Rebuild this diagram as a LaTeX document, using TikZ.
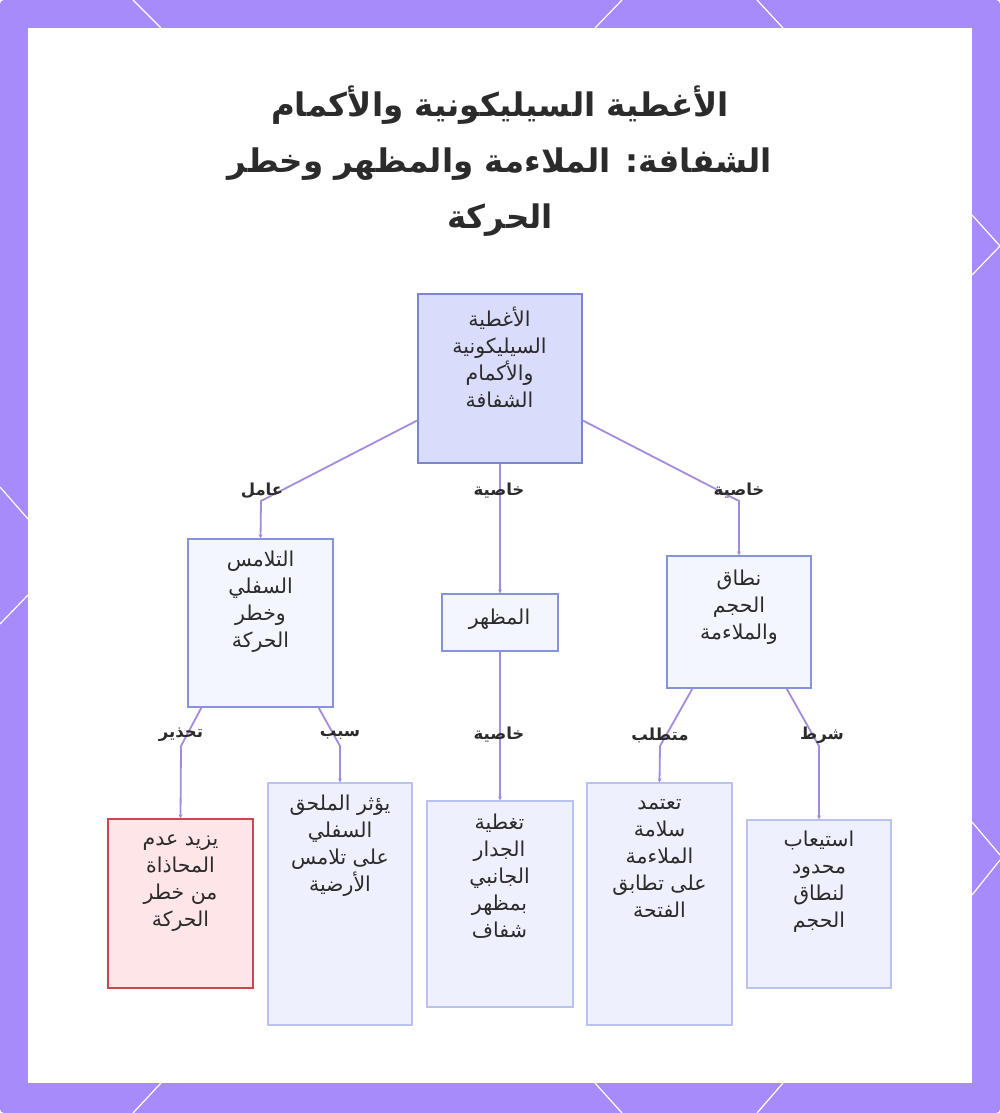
\documentclass[tikz,border=0pt]{standalone}
\usepackage{fontspec}
\setmainfont{DejaVu Sans}
\newfontfamily\arabicfont[Script=Arabic]{DejaVu Sans}
\TeXXeTstate=1
\usepackage{tikz}
\usetikzlibrary{positioning, arrows.meta, calc}
\definecolor{frame}{HTML}{A78BFA}
\definecolor{edge}{HTML}{A48BDC}
\definecolor{ink}{HTML}{2B2B2B}
\definecolor{rootfill}{HTML}{D9DDFB}
\definecolor{rootline}{HTML}{7A86D4}
\definecolor{midfill}{HTML}{F4F6FE}
\definecolor{midline}{HTML}{8593D8}
\definecolor{leaffill}{HTML}{EEF1FD}
\definecolor{leafline}{HTML}{BAC2EF}
\definecolor{warnfill}{HTML}{FDE5E8}
\definecolor{warnline}{HTML}{C9474F}
\newcommand{\ar}[1]{\beginR #1\endR}
\tikzset{
  box/.style={rectangle, line width=1.2pt, inner sep=0pt},
  rootbox/.style={box, draw=rootline, fill=rootfill},
  midbox/.style={box, draw=midline, fill=midfill},
  leafbox/.style={box, draw=leafline, fill=leaffill},
  warnbox/.style={box, draw=warnline, fill=warnfill},
  txt/.style={font=\arabicfont\fontsize{20.5}{27}\selectfont, text=ink, align=center, inner sep=0pt},
  elabel/.style={font=\arabicfont\bfseries\fontsize{16.5}{18}\selectfont, text=ink, inner sep=1pt},
  link/.style={draw=edge, line width=1.8pt, -{Stealth[length=4pt,width=4pt]}},
  deco/.style={white, line width=1.2pt}
}

\begin{document}
\begin{tikzpicture}[x=1pt, y=-1pt]
    \useasboundingbox (0,0) rectangle (1000,1113);
    % Rahmen
    \fill[frame, rounded corners=4pt] (0,0) rectangle (1000,1113);
    \fill[white] (28,28) rectangle (972,1083);
    \foreach \xa/\ya/\xb/\yb in {133/0/161/28, 622/0/595/28, 757/0/783/28,
      161/1083/133/1113, 595/1083/622/1113, 783/1083/757/1113,
      0/487/28/519, 28/595/0/624,
      972/215/1000/246, 1000/246/972/275, 972/822/1000/855, 1000/860/972/895}
      \draw[deco] (\xa,\ya) -- (\xb,\yb);
    % Titel
    \node[font=\arabicfont\bfseries\fontsize{32.5}{56}\selectfont, text=ink, align=center] (title) at (500,161)
      {\ar{الأغطية السيليكونية والأكمام}\\\ar{الشفافة: الملاءمة والمظهر وخطر}\\\ar{الحركة}};
    % Kaesten
    \node[rootbox, minimum width=164pt, minimum height=169pt] (root) at (500,378.5) {};
    \node[midbox, minimum width=145pt, minimum height=168pt] (contact) at (260.5,623) {};
    \node[midbox, minimum width=116pt, minimum height=57pt] (look) at (500,622.5) {};
    \node[midbox, minimum width=144pt, minimum height=132pt] (fit) at (739,622) {};
    \node[warnbox, minimum width=145pt, minimum height=169pt] (warn) at (180.5,903.5) {};
    \node[leafbox, minimum width=144pt, minimum height=242pt] (lip) at (340,904) {};
    \node[leafbox, minimum width=146pt, minimum height=206pt] (wall) at (500,904) {};
    \node[leafbox, minimum width=145pt, minimum height=242pt] (cut) at (659.5,904) {};
    \node[leafbox, minimum width=144pt, minimum height=168pt] (range) at (819,904) {};
    % Knickpunkte
    \coordinate (kcontact) at (261,501);
    \coordinate (kfit) at (739,501);
    \coordinate (kwarn) at (181,746);
    \coordinate (klip) at (340,746);
    \coordinate (kcut) at (660,746);
    \coordinate (krange) at (819,746);
    % Verbindungen
    \draw[link] ($(root.south west)!0.254!(root.north west)$) -- (kcontact) -- (contact.north);
    \draw[link] (root.south) -- (look.north);
    \draw[link] ($(root.south east)!0.254!(root.north east)$) -- (kfit) -- (fit.north);
    \draw[link] ($(contact.south west)+(14,0)$) -- (kwarn) -- (warn.north);
    \draw[link] ($(contact.south east)+(-15,0)$) -- (klip) -- (lip.north);
    \draw[link] (look.south) -- (wall.north);
    \draw[link] ($(fit.south west)+(26,0)$) -- (kcut) -- (cut.north);
    \draw[link] ($(fit.south east)+(-25,0)$) -- (krange) -- (range.north);
    % Kantenbeschriftungen
    \node[elabel] (lfactor) at (262,491) {\ar{عامل}};
    \node[elabel] (lprop1) at (499,491) {\ar{خاصية}};
    \node[elabel] (lprop2) at (739,491) {\ar{خاصية}};
    \node[elabel] (lwarn) at (181,735) {\ar{تحذير}};
    \node[elabel] (lcause) at (340,735) {\ar{سبب}};
    \node[elabel] (lprop3) at (499,735) {\ar{خاصية}};
    \node[elabel] (lneed) at (660,735) {\ar{متطلب}};
    \node[elabel] (lcond) at (822,735) {\ar{شرط}};
    % Texte
    \node[txt] (troot) at (499.5,357.5)
      {\ar{الأغطية}\\\ar{السيليكونية}\\\ar{والأكمام}\\\ar{الشفافة}};
    \node[txt] (tcontact) at (260.5,601.5)
      {\ar{التلامس}\\\ar{السفلي}\\\ar{وخطر}\\\ar{الحركة}};
    \node[txt] (tlook) at (499.5,619) {\ar{المظهر}};
    \node[txt] (tfit) at (739,607.5)
      {\ar{نطاق}\\\ar{الحجم}\\\ar{والملاءمة}};
    \node[txt] (twarn) at (180.5,883)
      {\ar{يزيد عدم}\\\ar{المحاذاة}\\\ar{من خطر}\\\ar{الحركة}};
    \node[txt] (tlip) at (340,846)
      {\ar{يؤثر الملحق}\\\ar{السفلي}\\\ar{على تلامس}\\\ar{الأرضية}};
    \node[txt] (twall) at (499.5,876.5)
      {\ar{تغطية}\\\ar{الجدار}\\\ar{الجانبي}\\\ar{بمظهر}\\\ar{شفاف}};
    \node[txt] (tcut) at (659.5,858.5)
      {\ar{تعتمد}\\\ar{سلامة}\\\ar{الملاءمة}\\\ar{على تطابق}\\\ar{الفتحة}};
    \node[txt] (trange) at (819,882)
      {\ar{استيعاب}\\\ar{محدود}\\\ar{لنطاق}\\\ar{الحجم}};
  \end{tikzpicture}
\end{document}
